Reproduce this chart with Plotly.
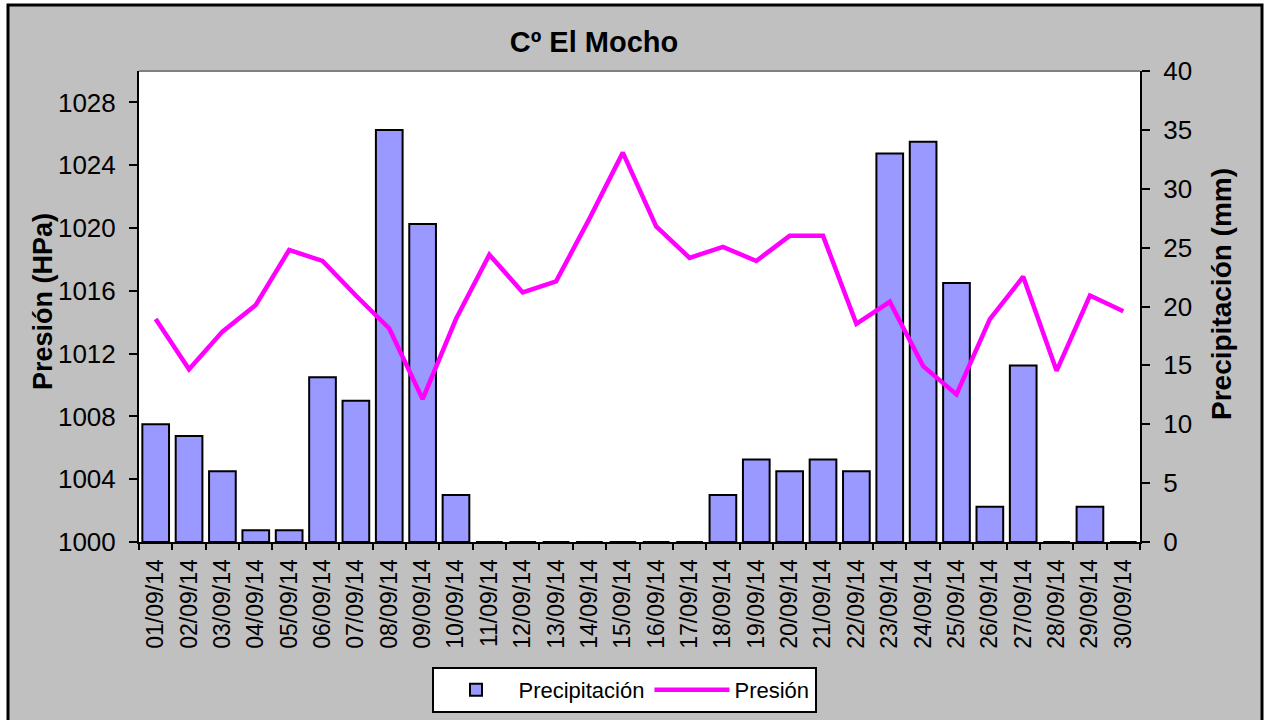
import plotly.graph_objects as go

dates = ["01/09/14", "02/09/14", "03/09/14", "04/09/14", "05/09/14", "06/09/14",
         "07/09/14", "08/09/14", "09/09/14", "10/09/14", "11/09/14", "12/09/14",
         "13/09/14", "14/09/14", "15/09/14", "16/09/14", "17/09/14", "18/09/14",
         "19/09/14", "20/09/14", "21/09/14", "22/09/14", "23/09/14", "24/09/14",
         "25/09/14", "26/09/14", "27/09/14", "28/09/14", "29/09/14", "30/09/14"]

precipitacion = [10, 9, 6, 1, 1, 14, 12, 35, 27, 4, 0, 0, 0, 0, 0, 0, 0, 4,
                 7, 6, 7, 6, 33, 34, 22, 3, 15, 0, 3, 0]

presion = [1014.2, 1011.0, 1013.4, 1015.1, 1018.6, 1017.9, 1015.7, 1013.6, 1009.1,
           1014.2, 1018.3, 1015.9, 1016.6, 1020.6, 1024.8, 1020.1, 1018.1, 1018.8,
           1017.9, 1019.5, 1019.5, 1013.9, 1015.3, 1011.2, 1009.4, 1014.2, 1016.9,
           1010.9, 1015.7, 1014.7]

FONT = "Liberation Sans, Arial, sans-serif"

fig = go.Figure()
fig.add_trace(go.Bar(
    x=dates, y=precipitacion, name="Precipitación", yaxis="y",
    marker=dict(color="#9999ff", line=dict(color="black", width=2)),
))
fig.add_trace(go.Scatter(
    x=dates, y=presion, name="Presión", yaxis="y2", mode="lines",
    line=dict(color="#ff00ff", width=4.5),
))

L, R, T, B = 139, 125, 71, 178
W, H = 1265, 720
pw, ph = W - L - R, H - T - B

def px(xp):
    return (xp - L) / pw

def py(yp):
    return (H - B - yp) / ph

fig.update_layout(
    width=W, height=H,
    margin=dict(l=L, r=R, t=T, b=B, autoexpand=False),
    paper_bgcolor="white",
    plot_bgcolor="white",
    font=dict(family=FONT, color="black"),
    bargap=0.2,
    showlegend=True,
    title=dict(text="<b>Cº El Mocho</b>", x=594 / W, y=1 - 42 / H,
               xref="container", yref="container",
               xanchor="center", yanchor="middle",
               font=dict(family=FONT, size=29, color="black")),
    xaxis=dict(type="category", range=[-0.5, 29.5], tickangle=-90,
               showline=True, linecolor="black", linewidth=2,
               ticks="outside", ticklen=6, tickwidth=2, tickcolor="black",
               tickson="boundaries", showgrid=False, zeroline=False,
               tickfont=dict(family=FONT, size=23), ticklabelstandoff=6),
    yaxis=dict(side="right", range=[0, 40], dtick=5, showgrid=False, zeroline=False,
               showline=True, linecolor="black", linewidth=2,
               ticks="outside", ticklen=8, tickwidth=2, tickcolor="black",
               tickfont=dict(family=FONT, size=26), ticklabelstandoff=8),
    yaxis2=dict(overlaying="y", side="left", range=[1000, 1030], dtick=4,
                tick0=1000, showgrid=False, zeroline=False,
                showline=True, linecolor="black", linewidth=2,
                ticks="outside", ticklen=8, tickwidth=2, tickcolor="black",
                tickfont=dict(family=FONT, size=26), ticklabelstandoff=8),
    legend=dict(orientation="h", x=px(624), y=py(667), xanchor="center", yanchor="top",
                bgcolor="white", bordercolor="black", borderwidth=2,
                font=dict(family=FONT, size=22), itemwidth=75,
                traceorder="normal"),
)

shapes = [
    # gray chart area
    dict(type="rect", xref="paper", yref="paper", x0=px(8), x1=px(1262),
         y0=py(H + 10), y1=py(5), fillcolor="#c0c0c0", line=dict(width=0),
         layer="below"),
    # white plot area
    dict(type="rect", xref="paper", yref="paper", x0=0, x1=1, y0=0, y1=1,
         fillcolor="white", line=dict(width=0), layer="below"),
    # top border of plot area
    dict(type="line", xref="paper", yref="paper", x0=0, x1=1, y0=1, y1=1,
         line=dict(color="#808080", width=2), layer="above"),
    # outer black border
    dict(type="rect", xref="paper", yref="paper", x0=px(8), x1=px(1262),
         y0=py(H + 10), y1=py(5), fillcolor="rgba(0,0,0,0)",
         line=dict(color="black", width=3), layer="above"),
]
fig.update_layout(shapes=shapes)

fig.add_annotation(text="<b>Presión (HPa)</b>", xref="paper", yref="paper",
                   x=px(43), y=py(302), textangle=-90, showarrow=False,
                   xanchor="center", yanchor="middle",
                   font=dict(family=FONT, size=27, color="black"))
fig.add_annotation(text="<b>Precipitación (mm)</b>", xref="paper", yref="paper",
                   x=px(1221), y=py(294), textangle=-90, showarrow=False,
                   xanchor="center", yanchor="middle",
                   font=dict(family=FONT, size=28, color="black"))

fig.write_html("out.html",
               config={"displayModeBar": False},
               post_script="document.body.style.margin='0';document.body.style.overflow='hidden';")
